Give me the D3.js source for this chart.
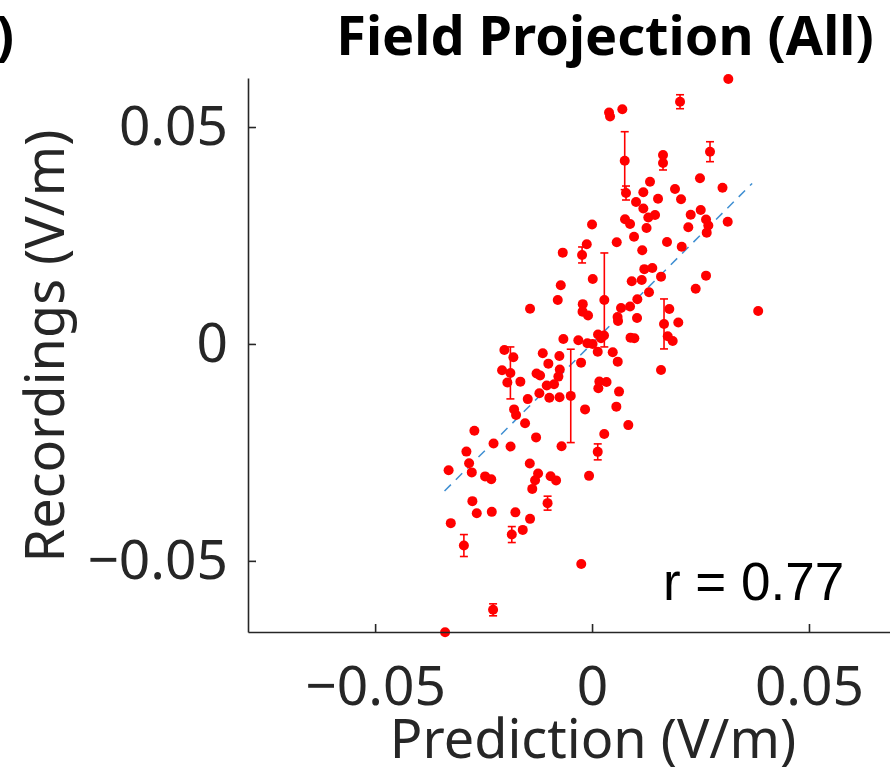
<!DOCTYPE html>
<html>
<head>
<meta charset="utf-8">
<script src="https://cdn.jsdelivr.net/npm/d3@7"></script>
<style>
  body { margin: 0; background: #fff; }
  svg { display: block; }
</style>
</head>
<body>
<svg width="890" height="772"></svg>
<script>
// prediction (x) and recording (y) in V/m, errY = half length of error bar (0 = none)
let predX = [
  0.03141, 0.02028, 0.00698, 0.00392, 0.00415, 0.00753, 0.01636, 0.01636, 0.02719, 0.01336,
  0.02488, 0.01912, 0.03007, 0.00783, 0.01182, 0.01521, 0.02051, 0.01014, 0.01182, 0.02505,
  0.01452, 0.01297, 0.02274, 0.00760, 0.00876, 0.02627, 0.02680, 0.03127, 0.01256, 0.02219,
  0.02643, 0.00968, 0.00569, 0.01728, 0.02067, 0.01157, 0.00000, -0.00122, -0.00230, -0.00675,
  0.01205, 0.01389, 0.00915, 0.01145, 0.01590, 0.02627, 0.02389, 0.01313, 0.01044, 0.00283,
  0.00876, 0.00668, 0.00588, 0.00599, 0.01037, 0.01659, 0.01781, 0.01988, 0.01744, 0.01859,
  0.03829, 0.00887, 0.00975, 0.00138, 0.00276, 0.00207, -0.00108, 0.00012, -0.00316, -0.00661,
  0.00131, 0.00477, 0.00592, 0.01590, 0.00334, 0.00168, 0.00145, 0.00622, 0.00560, 0.00836,
  0.00281, -0.00161, -0.00253, 0.00016, -0.00721, -0.00790, -0.00214, -0.00219, -0.00092, -0.01429,
  -0.01136, -0.00753, -0.01007, -0.00744, -0.01279, -0.01198, -0.00776, -0.00876, -0.01044, -0.01214,
  -0.01482, -0.00984, -0.00749, -0.00491, -0.02021, -0.01813, -0.02074, -0.01882, -0.01952, -0.01652,
  -0.01797, -0.01751, -0.01544, -0.02712, -0.01290, -0.02270, -0.01878, -0.00703, 0.00131, -0.02896,
  -0.03306, -0.02834, -0.02772, -0.02465, -0.02323, -0.01435, -0.01244, -0.01313, -0.01378, -0.00956,
  -0.00829, -0.00069, -0.01025, -0.02758, -0.02657, -0.02311, -0.01767, -0.01429, -0.03256, -0.02954,
  -0.01850, -0.01597, -0.00249, -0.02281, -0.03387
];
let recY = [
  0.06106, 0.05583, 0.05408, 0.05334, 0.05242, 0.04224, 0.04355, 0.04171, 0.04431, 0.03740,
  0.03818, 0.03571, 0.03601, 0.03479, 0.03495, 0.03348, 0.03334, 0.03272, 0.03122, 0.03088,
  0.02972, 0.02915, 0.02979, 0.02873, 0.02765, 0.02869, 0.02730, 0.02818, 0.02673, 0.02689,
  0.02565, 0.02472, 0.02346, 0.02350, 0.02242, 0.02161, 0.02753, 0.02297, 0.02051, 0.02104,
  0.01724, 0.01751, 0.01445, 0.01475, 0.01551, 0.01574, 0.01274, 0.01191, 0.01030, 0.01014,
  0.00864, 0.00829, 0.00622, 0.00530, 0.00599, 0.00461, 0.00806, 0.00495, 0.00177, 0.00069,
  0.00760, 0.00145, 0.00131, 0.00219, 0.00196, 0.00131, 0.00016, 0.00000, 0.00085, 0.00115,
  -0.00180, -0.00191, -0.00408, -0.00599, -0.00876, -0.00864, -0.01021, -0.01099, -0.01445, -0.01871,
  -0.02074, -0.01509, -0.00431, 0.01498, 0.01353, 0.01014, 0.00917, 0.00744, 0.00654, 0.00813,
  -0.00214, -0.00276, -0.00454, -0.00588, -0.00680, -0.00726, -0.00753, -0.00929, -0.00956, -0.01136,
  -0.01272, -0.01240, -0.01228, -0.01198, -0.00138, -0.00306, -0.00606, -0.00668, -0.00887, -0.00869,
  -0.01509, -0.01636, -0.01827, -0.02000, -0.02154, -0.02297, -0.02366, -0.02357, -0.02488, -0.02482,
  -0.02910, -0.02749, -0.02961, -0.03053, -0.03118, -0.02758, -0.02988, -0.03141, -0.03341, -0.03048,
  -0.03145, -0.03041, -0.03670, -0.03624, -0.03901, -0.03871, -0.03882, -0.04032, -0.04131, -0.04647,
  -0.04394, -0.04286, -0.05074, -0.06129, -0.06647
];
let errY = [
  0, 0.00161, 0, 0, 0, 0.00668, 0, 0.00161, 0.00230, 0,
  0, 0, 0, 0.00161, 0, 0, 0, 0, 0, 0,
  0, 0, 0, 0, 0, 0, 0, 0, 0, 0,
  0, 0, 0, 0, 0, 0, 0, 0, 0.00184, 0,
  0, 0, 0, 0, 0, 0, 0, 0, 0, 0.01083,
  0, 0, 0, 0, 0, 0.00576, 0, 0, 0, 0,
  0, 0, 0, 0, 0, 0, 0, 0, 0, 0,
  0, 0, 0, 0, 0, 0, 0, 0, 0, 0,
  0, 0, 0, 0, 0, 0, 0, 0, 0, 0,
  0, 0, 0, 0, 0, 0, 0, 0, 0, 0,
  0, 0, 0, 0.01076, 0, 0, 0, 0.00599, 0, 0,
  0, 0, 0, 0, 0, 0, 0, 0, 0.00184, 0,
  0, 0, 0, 0, 0, 0, 0, 0, 0, 0,
  0, 0, 0.00161, 0, 0, 0, 0, 0, 0, 0.00253,
  0.00184, 0, 0, 0.00138, 0
];

// dashed fit line ends
let fitX = [-0.0340, 0.0369];
let fitY = [-0.0339, 0.0370];

let xTicks = [-0.05, 0, 0.05];
let yTicks = [-0.05, 0, 0.05];
let xDomain = [-0.0793, 0.0802];
let yDomain = [-0.0664, 0.0613];

let plotLeft = 248, plotRight = 940, plotTop = 78, plotBottom = 632;

var svg = d3.select('svg');
let font = "'Noto Sans', 'Open Sans', sans-serif";
let axisColor = '#262626';

let x = d3.scaleLinear().domain(xDomain).range([plotLeft, plotRight]);
let y = d3.scaleLinear().domain(yDomain).range([plotBottom, plotTop]);

let fmt = d => d === 0 ? '0' : (d < 0 ? '\u22120.05' : '0.05');

// fit line (under the dots)
svg.append('line')
    .attr('x1', x(fitX[0])).attr('y1', y(fitY[0]))
    .attr('x2', x(fitX[1])).attr('y2', y(fitY[1]))
    .attr('stroke', '#3f8fd2')
    .attr('stroke-width', 1.5)
    .attr('stroke-dasharray', '9,7');

let pts = predX.map((v, i) => ({x: v, y: recY[i], e: errY[i]}));

let bars = svg.append('g')
    .attr('stroke', '#ff0000')
    .attr('stroke-width', 1.6);
pts.filter(d => d.e > 0).forEach(d => {
    let cx = x(d.x), y1 = y(d.y + d.e), y2 = y(d.y - d.e);
    bars.append('line').attr('x1', cx).attr('x2', cx).attr('y1', y1).attr('y2', y2);
    bars.append('line').attr('x1', cx - 4).attr('x2', cx + 4).attr('y1', y1).attr('y2', y1);
    bars.append('line').attr('x1', cx - 4).attr('x2', cx + 4).attr('y1', y2).attr('y2', y2);
});

svg.append('g').selectAll('circle')
    .data(pts)
    .enter()
    .append('circle')
    .attr('cx', d => x(d.x))
    .attr('cy', d => y(d.y))
    .attr('r', 5)
    .attr('fill', '#ff0000');

// axes, ticks pointing inward like matlab
let xAxis = svg.append('g')
    .attr('transform', `translate(0, ${plotBottom})`)
    .call(d3.axisBottom(x).tickValues(xTicks).tickFormat(fmt)
        .tickSizeInner(-8).tickSizeOuter(0).tickPadding(34));
let yAxis = svg.append('g')
    .attr('transform', `translate(${plotLeft}, 0)`)
    .call(d3.axisLeft(y).tickValues(yTicks).tickFormat(fmt)
        .tickSizeInner(-8).tickSizeOuter(0).tickPadding(20));

[xAxis, yAxis].forEach(a => {
    a.select('.domain').attr('stroke', axisColor).attr('stroke-width', 1.6);
    a.selectAll('.tick line').attr('stroke', axisColor).attr('stroke-width', 1.6);
    a.selectAll('.tick text')
        .attr('fill', axisColor)
        .style('font-family', font)
        .style('font-size', '55px');
});

svg.append('text')
    .attr('x', 593).attr('y', 758)
    .attr('text-anchor', 'middle')
    .attr('fill', axisColor)
    .style('font-family', font).style('font-size', '54px')
    .text('Prediction (V/m)');

svg.append('text')
    .attr('transform', 'translate(64, 346) rotate(-90)')
    .attr('text-anchor', 'middle')
    .attr('fill', axisColor)
    .style('font-family', font).style('font-size', '54px')
    .text('Recordings (V/m)');

svg.append('text')
    .attr('x', 605).attr('y', 55)
    .attr('text-anchor', 'middle')
    .attr('fill', '#000')
    .style('font-family', font).style('font-size', '54px').style('font-weight', 'bold')
    .text('Field Projection (All)');

// panel letter, cut off at the left edge
svg.append('text')
    .attr('x', 14).attr('y', 55)
    .attr('text-anchor', 'end')
    .attr('fill', '#000')
    .style('font-family', font).style('font-size', '54px').style('font-weight', 'bold')
    .text(')');

svg.append('text')
    .attr('x', 663).attr('y', 600)
    .attr('fill', '#000')
    .style('font-family', "'Liberation Sans', Arial, sans-serif").style('font-size', '53px')
    .text('r = 0.77');
</script>
</body>
</html>
